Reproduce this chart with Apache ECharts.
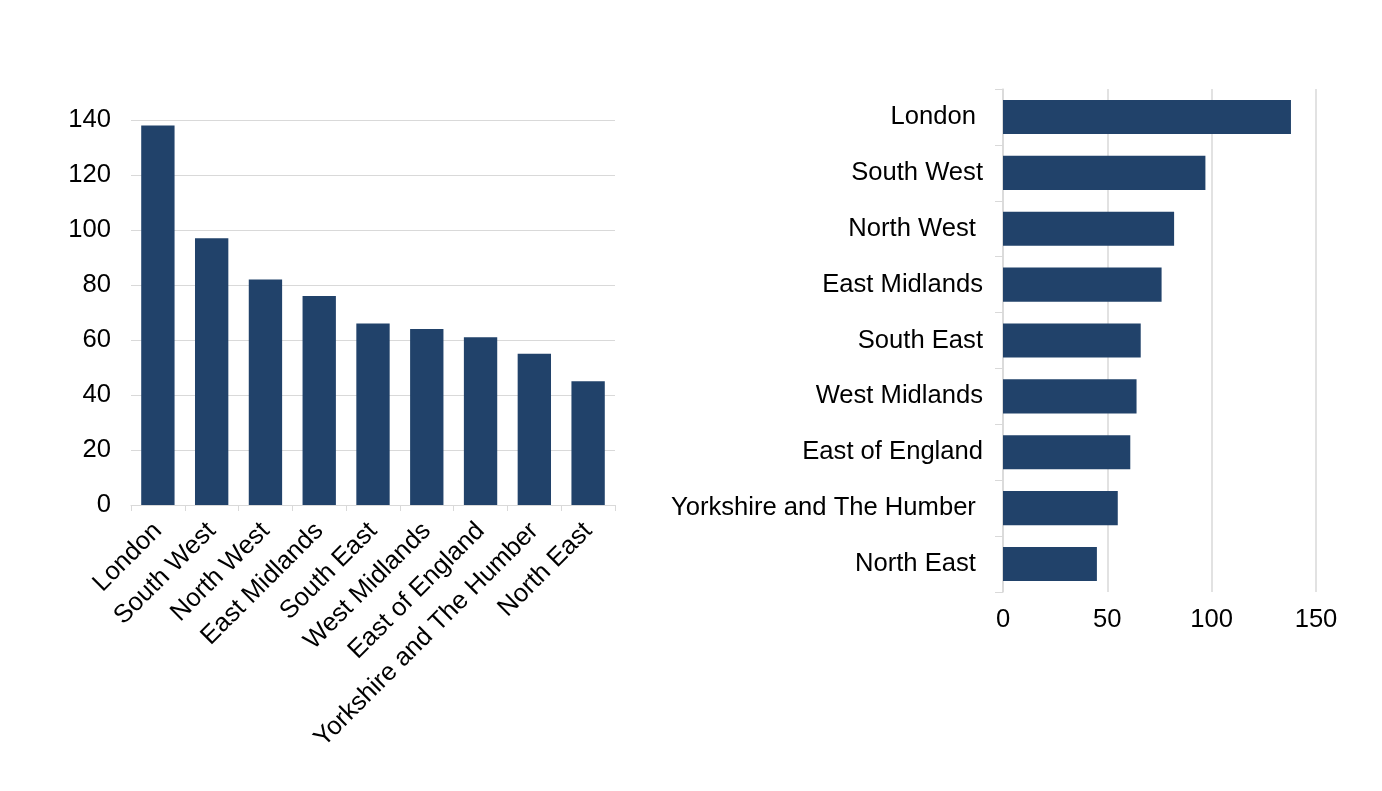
<!DOCTYPE html>
<html>
<head>
<meta charset="utf-8">
<script src="https://cdn.jsdelivr.net/npm/echarts@6/dist/echarts.min.js"></script>
<style>
  html, body { margin: 0; padding: 0; background: #fff; }
  #chart { width: 1382px; height: 791px; }
</style>
</head>
<body>
<div id="chart"></div>
<script>
// regions, largest first
const regions = ['London', 'South West', 'North West', 'East Midlands', 'South East',
  'West Midlands', 'East of England', 'Yorkshire and The Humber', 'North East']
// the horizontal chart's labels carry a trailing space on some rows
const barLabels = ['London ', 'South West', 'North West ', 'East Midlands', 'South East',
  'West Midlands', 'East of England', 'Yorkshire and The Humber ', 'North East ']
const values = [138, 97, 82, 76, 66, 64, 61, 55, 45]
const leftTicks = [0, 20, 40, 60, 80, 100, 120, 140]
const rightTicks = [0, 50, 100, 150]

const barColor = '#21426a'
const lineColor = '#d9d9d9'
const font = '"Liberation Sans", Arial, sans-serif'
const fs = 25.6

const renderChart = () => {
  var myChart = echarts.init(document.getElementById('chart'))

  var option = {
    animation: false,
    textStyle: { fontFamily: font },
    grid: [
      { left: 131, right: 767, top: 120, bottom: 286 },
      { left: 1003, right: 66, top: 89, bottom: 199 }
    ],
    xAxis: [
      {
        gridIndex: 0,
        type: 'category',
        data: regions,
        axisLine: { lineStyle: { color: lineColor, width: 1 } },
        axisTick: { show: true, length: 6, lineStyle: { color: lineColor } },
        axisLabel: {
          rotate: 45,
          margin: 22,
          color: '#000',
          fontSize: fs,
          fontFamily: font,
          interval: 0
        }
      },
      {
        gridIndex: 1,
        type: 'value',
        min: rightTicks[0],
        max: rightTicks[rightTicks.length - 1],
        interval: 50,
        axisLine: { show: false },
        axisTick: { show: false },
        splitLine: { lineStyle: { color: lineColor, width: 1.5 } },
        axisLabel: { color: '#000', fontSize: fs, fontFamily: font, margin: 15 }
      }
    ],
    yAxis: [
      {
        gridIndex: 0,
        type: 'value',
        min: leftTicks[0],
        max: leftTicks[leftTicks.length - 1],
        interval: 20,
        axisLine: { show: false },
        axisTick: { show: false },
        splitLine: { lineStyle: { color: lineColor, width: 1 } },
        axisLabel: { color: '#000', fontSize: fs, fontFamily: font, margin: 20 }
      },
      {
        gridIndex: 1,
        type: 'category',
        inverse: true,
        data: barLabels,
        axisLine: { show: true, lineStyle: { color: lineColor, width: 1.5 } },
        axisTick: { show: true, length: 8, lineStyle: { color: lineColor } },
        axisLabel: { color: '#000', fontSize: fs, fontFamily: font, margin: 20, interval: 0 }
      }
    ],
    series: [
      {
        type: 'bar',
        xAxisIndex: 0,
        yAxisIndex: 0,
        data: values,
        barCategoryGap: '38%',
        itemStyle: { color: barColor }
      },
      {
        type: 'bar',
        xAxisIndex: 1,
        yAxisIndex: 1,
        data: values,
        barCategoryGap: '39%',
        itemStyle: { color: barColor }
      }
    ]
  }

  myChart.setOption(option)
}

document.addEventListener('DOMContentLoaded', function () {
  renderChart()
})
</script>
</body>
</html>
